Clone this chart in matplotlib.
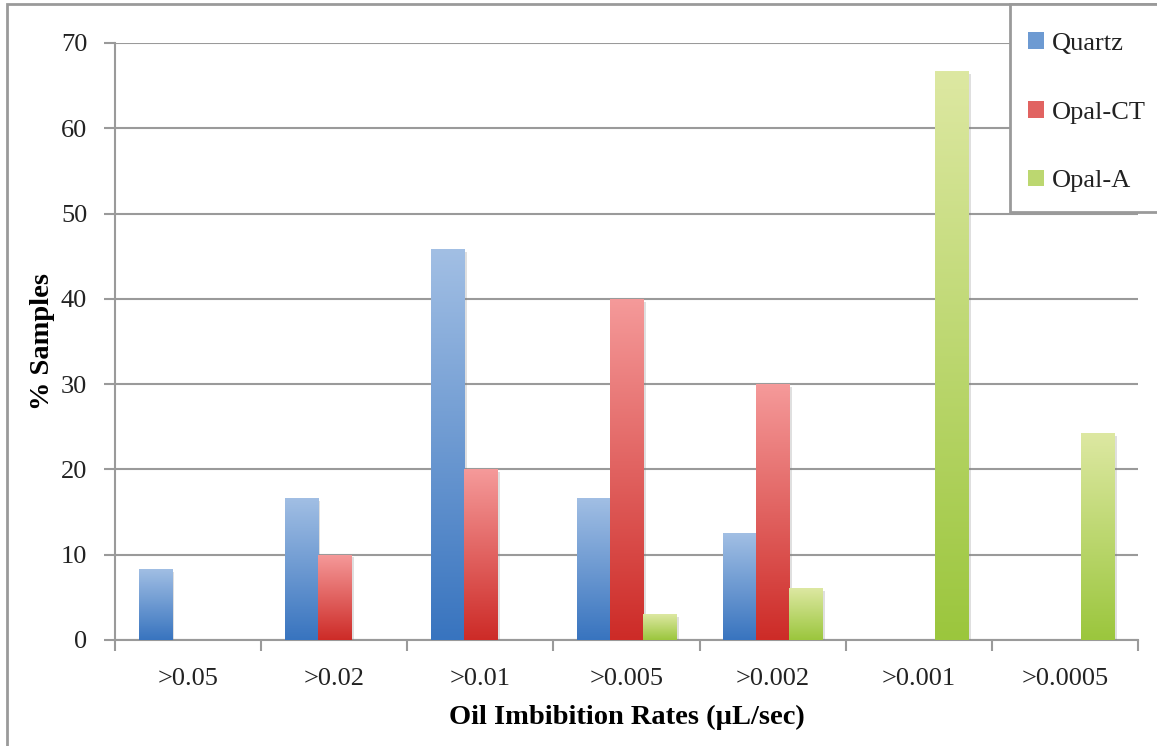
import numpy as np
import matplotlib.pyplot as plt
from matplotlib.colors import LinearSegmentedColormap
from matplotlib.patches import Patch, Rectangle
import matplotlib.patheffects as pe

plt.rcParams['font.family'] = ['Liberation Serif', 'DejaVu Serif']

rates = ['>0.05', '>0.02', '>0.01', '>0.005', '>0.002', '>0.001', '>0.0005']
quartz = [8.33, 16.67, 45.83, 16.67, 12.5, 0, 0]
opal_ct = [0, 10, 20, 40, 30, 0, 0]
opal_a = [0, 0, 0, 3.03, 6.06, 66.67, 24.24]

series = [('Quartz', quartz, '#a2bfe4', '#3874bf'),
          ('Opal-CT', opal_ct, '#f59a9a', '#cd2b27'),
          ('Opal-A', opal_a, '#dde8a2', '#9bc63d')]

fig = plt.figure(figsize=(11.57, 7.46), dpi=100)
ax = fig.add_axes([0.0994, 0.1421, 0.8842, 0.8003])

x = np.arange(len(rates))
w = 0.226
grad = np.linspace(0, 1, 256).reshape(-1, 1)

for k, (name, vals, light, dark) in enumerate(series):
    cmap = LinearSegmentedColormap.from_list(name, [dark, light])
    bars = ax.bar(x + (k - 1) * w, vals, w, color='none', zorder=3,
                  path_effects=[pe.SimplePatchShadow(offset=(2, -2), shadow_rgbFace='#808080', alpha=0.25),
                                pe.Normal()])
    for b in bars:
        h = b.get_height()
        if h <= 0:
            continue
        x0 = b.get_x()
        im = ax.imshow(grad, cmap=cmap, aspect='auto', origin='lower',
                       extent=[x0, x0 + b.get_width(), 0, h], zorder=4)
        im.set_clip_path(b)

ax.set_xlim(-0.5, len(rates) - 0.5)
ax.set_ylim(0, 70)
ax.set_yticks(range(0, 71, 10))
ax.grid(axis='y', color='#9a9a9a', linewidth=1.5, zorder=0)
ax.set_axisbelow(True)

ax.set_xticks(x)
ax.set_xticklabels(rates)
ax.set_xticks(np.arange(-0.5, len(rates), 1), minor=True)
ax.tick_params(axis='x', which='major', length=0, pad=20, labelsize=19, labelcolor='#222222')
ax.tick_params(axis='x', which='minor', length=8, width=1.5, color='#9a9a9a')
ax.tick_params(axis='y', length=8, width=1.5, color='#9a9a9a', labelsize=19,
               labelcolor='#222222', pad=12)

for s in ['top', 'right']:
    ax.spines[s].set_visible(False)
for s in ['left', 'bottom']:
    ax.spines[s].set_color('#9a9a9a')
    ax.spines[s].set_linewidth(1.5)

ax.set_xlabel('Oil Imbibition Rates (µL/sec)', fontsize=20.5, fontweight='bold', labelpad=11)
ax.set_ylabel('% Samples', fontsize=20.5, fontweight='bold', labelpad=4)

# outer chart frame
fig.patches.append(Rectangle((7 / 1157, -0.05), 1.1, 0.05 + 1 - 4 / 746,
                             transform=fig.transFigure, fill=False,
                             edgecolor='#9a9a9a', linewidth=2, zorder=0))

# legend box
fig.patches.append(Rectangle((1010 / 1157, 1 - 212 / 746), 0.2, (212 - 4) / 746,
                             transform=fig.transFigure, facecolor='white',
                             edgecolor='#9a9a9a', linewidth=2, zorder=5))
handles = [Patch(facecolor=LinearSegmentedColormap.from_list('m', [d, l])(0.5), edgecolor='none')
           for _, _, l, d in series]
leg = fig.legend(handles, [s[0] for s in series], loc='upper left',
                 bbox_to_anchor=(1028 / 1157, 1 - 32 / 746), frameon=False,
                 fontsize=19, labelspacing=1.75, handlelength=0.6, handleheight=0.6,
                 handletextpad=0.3, borderaxespad=0, borderpad=0)
leg.set_zorder(6)
for t in leg.get_texts():
    t.set_color('#222222')

fig.savefig('out.png', dpi=100)
